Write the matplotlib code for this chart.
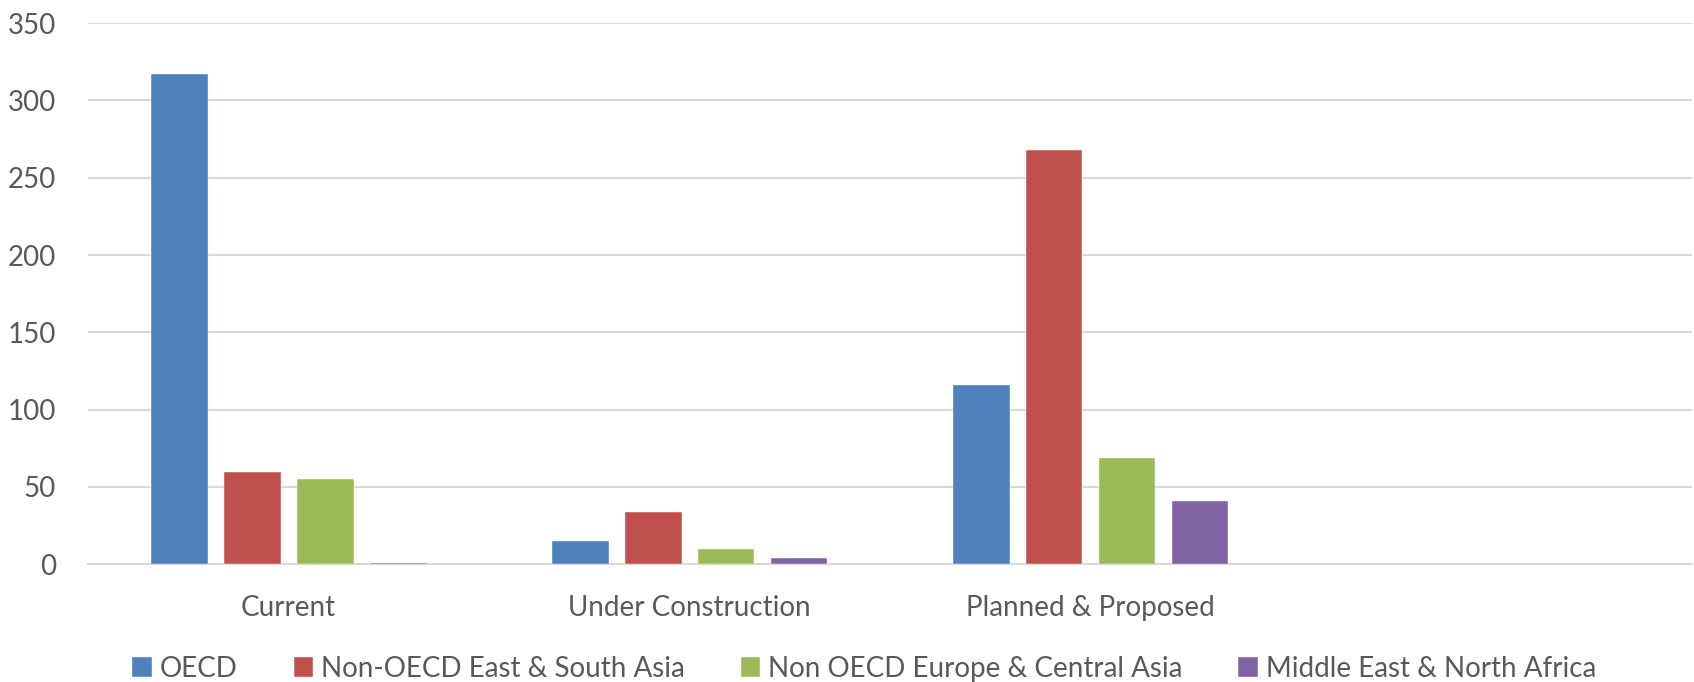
import numpy as np
import matplotlib.pyplot as plt

# capacity by stage and region
categories = ['Current', 'Under Construction', 'Planned & Proposed', '']
series_names = ['OECD', 'Non-OECD East & South Asia',
                'Non OECD Europe & Central Asia', 'Middle East & North Africa']
oecd = [317, 15, 116, np.nan]
east_south_asia = [60, 34, 268, np.nan]
europe_central_asia = [55, 10, 69, np.nan]
mena = [1, 4, 41, np.nan]

COLORS = ['#4F81BD', '#C0504D', '#9BBB59', '#8064A2']
TEXT = '#595959'
GRID = '#D9D9D9'

plt.rcParams['font.family'] = ['Lato', 'DejaVu Sans']

fig = plt.figure(figsize=(16.94, 6.82), dpi=100)
ax = fig.add_axes([0.052, 0.1726, 0.9468, 0.7934])

x = np.arange(len(categories))
width = 0.142
pitch = 0.182
data = [oecd, east_south_asia, europe_central_asia, mena]
for i, (vals, name, col) in enumerate(zip(data, series_names, COLORS)):
    ax.bar(x + (i - 1.5) * pitch, vals, width, color=col, label=name,
           edgecolor='white', linewidth=0.3, zorder=3)

ax.set_xlim(-0.5, len(categories) - 0.5)
ax.set_ylim(0, 350)
ax.set_yticks(np.arange(0, 351, 50))
ax.set_xticks(x)
ax.set_xticklabels(categories)
ax.tick_params(axis='both', length=0, colors=TEXT, labelsize=20)
ax.tick_params(axis='x', pad=22)
ax.tick_params(axis='y', pad=23)

ax.grid(axis='y', color=GRID, linewidth=1.5, zorder=0)
for side in ['top', 'right', 'left']:
    ax.spines[side].set_visible(False)
ax.spines['bottom'].set_color(GRID)
ax.spines['bottom'].set_linewidth(1.5)

leg = ax.legend(loc='center', bbox_to_anchor=(0.484, -0.193), ncol=4, frameon=False,
                fontsize=20, handlelength=0.7, handleheight=0.7, handletextpad=0.3,
                columnspacing=2.0)
for t in leg.get_texts():
    t.set_color(TEXT)

plt.savefig('out.png', dpi=100)
